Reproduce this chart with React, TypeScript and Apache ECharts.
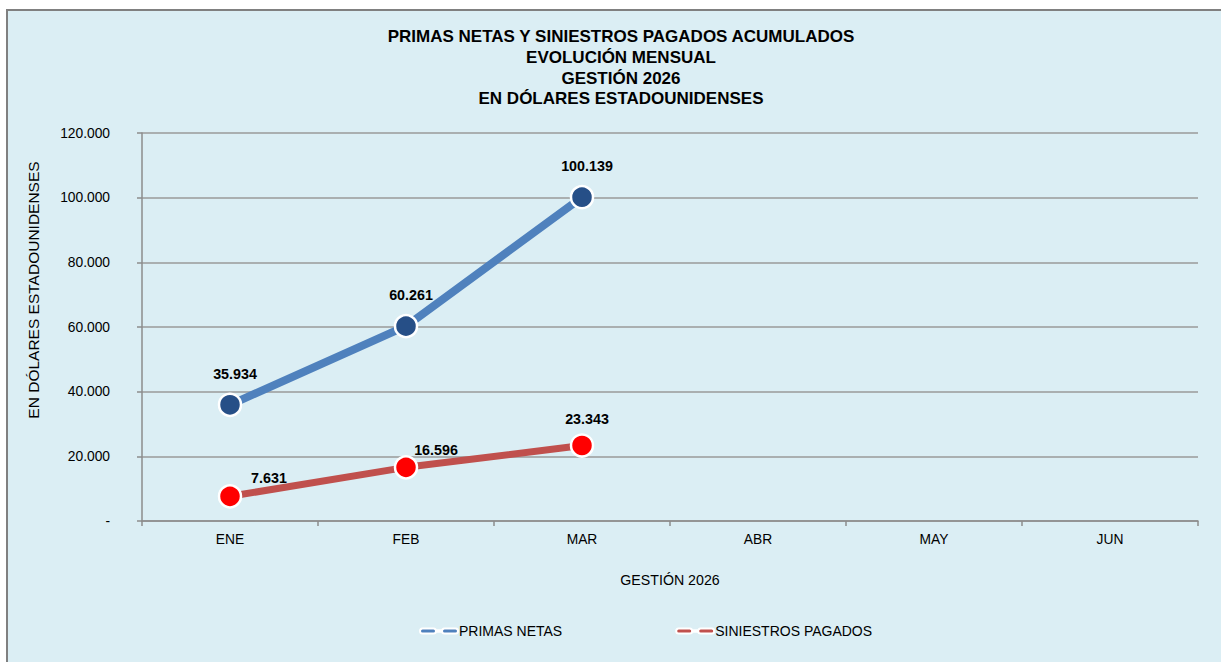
import React, { useEffect, useRef } from "react";
import * as echarts from "echarts";

const titleLines = [
  "PRIMAS NETAS Y SINIESTROS PAGADOS ACUMULADOS",
  "EVOLUCIÓN MENSUAL",
  "GESTIÓN 2026",
  "EN DÓLARES ESTADOUNIDENSES",
];
const months = ["ENE", "FEB", "MAR", "ABR", "MAY", "JUN"];
const primasNetas = [35934, 60261, 100139];
const siniestrosPagados = [7631, 16596, 23343];
const yAxisTitle = "EN DÓLARES ESTADOUNIDENSES";
const xAxisTitle = "GESTIÓN 2026";
const seriesNames = ["PRIMAS NETAS", "SINIESTROS PAGADOS"];

function fmt(v: number): string {
  if (v === 0) return "-";
  const s = Math.round(v).toString();
  return s.replace(/\B(?=(\d{3})+(?!\d))/g, ".");
}

const FONT = "Liberation Sans, Arial, sans-serif";
const legendIcon =
  "path://M2.5,0H13.5A2.5,2.5,0,0,1,13.5,5H2.5A2.5,2.5,0,0,1,2.5,0Z M17.5,1.8H20.5V3.2H17.5Z M24.5,0H35.5A2.5,2.5,0,0,1,35.5,5H24.5A2.5,2.5,0,0,1,24.5,0Z";

export default function App() {
  const ref = useRef<HTMLDivElement>(null);
  useEffect(() => {
    if (!ref.current) return;
    const chart = echarts.init(ref.current, undefined, { renderer: "svg" });
    const redOffsets: number[][] = [
      [39, 8],
      [30, 9],
      [5, 0],
    ];
    chart.setOption({
      animation: false,
      backgroundColor: "#ffffff",
      textStyle: { fontFamily: FONT },
      graphic: [
        {
          type: "rect",
          z: -10,
          silent: true,
          shape: { x: 7, y: 10, width: 1240, height: 680 },
          style: { fill: "#DBEEF4", stroke: "#808080", lineWidth: 2 },
        },
        {
          type: "text",
          x: 621,
          y: 26.5,
          style: {
            text: titleLines.join("\n"),
            font: `bold 17px ${FONT}`,
            fill: "#000",
            align: "center",
            verticalAlign: "top",
            lineHeight: 20.7,
          },
        },
        {
          type: "text",
          x: 33,
          y: 290,
          rotation: Math.PI / 2,
          style: {
            text: yAxisTitle,
            font: `15.5px ${FONT}`,
            fill: "#000",
            align: "center",
            verticalAlign: "middle",
          },
        },
      ],
      grid: { left: 142, right: 23, top: 133, bottom: 141, containLabel: false },
      legend: {
        left: 414,
        top: 619,
        itemGap: 113,
        itemWidth: 38,
        itemHeight: 5,
        textStyle: { fontSize: 14, color: "#000", fontFamily: FONT, padding: [0, 0, 0, -4] },
        data: [
          { name: seriesNames[0], icon: legendIcon, itemStyle: { color: "#4F81BD" } },
          { name: seriesNames[1], icon: legendIcon, itemStyle: { color: "#C0504D" } },
        ],
      },
      xAxis: {
        type: "category",
        data: months,
        boundaryGap: true,
        name: xAxisTitle,
        nameLocation: "middle",
        nameGap: 52,
        nameTextStyle: { fontSize: 14.2, color: "#000", fontFamily: FONT },
        axisLine: { lineStyle: { color: "#8C8C8C", width: 1.5 } },
        axisTick: { show: true, length: 5, lineStyle: { color: "#8C8C8C", width: 1.5 } },
        axisLabel: { fontSize: 13.8, color: "#000", margin: 11, fontFamily: FONT },
      },
      yAxis: {
        type: "value",
        min: 0,
        max: 120000,
        interval: 20000,
        axisLine: { show: true, lineStyle: { color: "#8C8C8C", width: 1.5 } },
        axisTick: { show: true, length: 5, lineStyle: { color: "#8C8C8C", width: 1.5 } },
        splitLine: { lineStyle: { color: "#9A9A9A", width: 1.5 } },
        axisLabel: {
          fontSize: 13.8,
          color: "#000",
          margin: 32,
          fontFamily: FONT,
          formatter: (v: number) => fmt(v),
        },
      },
      series: [
        {
          name: seriesNames[0],
          type: "line",
          data: primasNetas,
          symbol: "circle",
          symbolSize: 22,
          lineStyle: { color: "#4F81BD", width: 8 },
          itemStyle: { color: "#264F87", borderColor: "#ffffff", borderWidth: 2.5 },
          label: {
            show: true,
            position: "top",
            distance: 12,
            offset: [5, 0],
            fontSize: 14.3,
            fontWeight: "bold",
            color: "#000",
            fontFamily: FONT,
            formatter: (p: any) => fmt(p.value),
          },
          z: 3,
        },
        {
          name: seriesNames[1],
          type: "line",
          data: siniestrosPagados.map((v, i) => ({
            value: v,
            label: { offset: redOffsets[i] },
          })),
          symbol: "circle",
          symbolSize: 22,
          lineStyle: { color: "#C0504D", width: 7 },
          itemStyle: { color: "#FF0000", borderColor: "#ffffff", borderWidth: 2.5 },
          label: {
            show: true,
            position: "top",
            distance: 7,
            fontSize: 14.3,
            fontWeight: "bold",
            color: "#000",
            fontFamily: FONT,
            formatter: (p: any) => fmt(p.value),
          },
          z: 3,
        },
      ],
    });
    return () => chart.dispose();
  }, []);
  return (
    <div
      ref={ref}
      style={{ position: "fixed", left: 0, top: 0, width: 1221, height: 662, background: "#fff" }}
    />
  );
}
